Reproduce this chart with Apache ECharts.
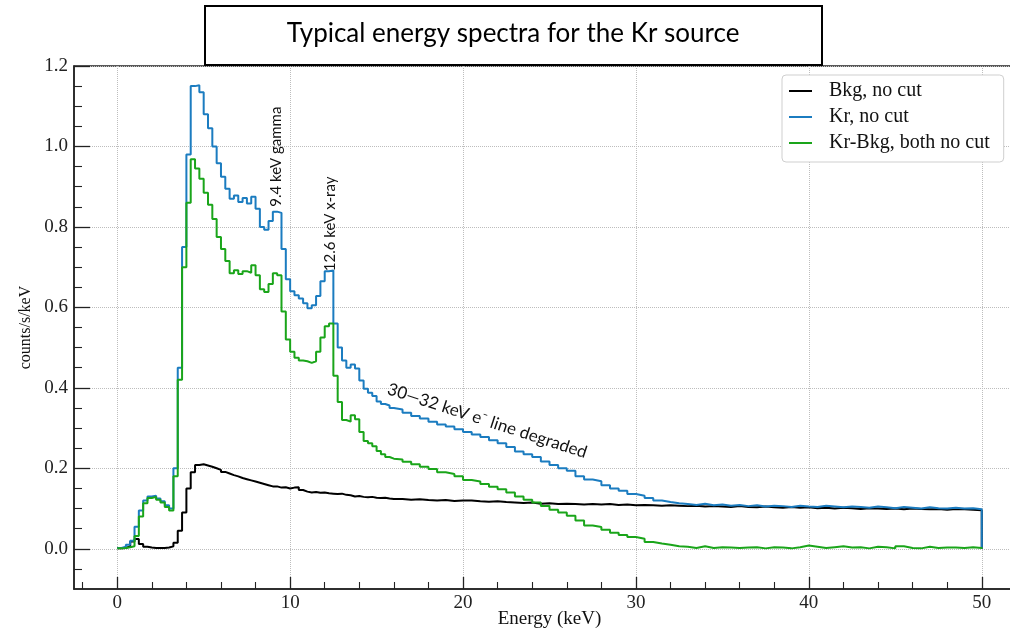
<!DOCTYPE html>
<html>
<head>
<meta charset="utf-8">
<script src="https://cdn.jsdelivr.net/npm/echarts@6/dist/echarts.min.js"></script>
<style>
  html, body { margin: 0; padding: 0; background: #fff; }
  #chart { width: 1010px; height: 632px; }
</style>
</head>
<body>
<div id="chart"></div>
<script>
// Histogram bins: 0.25 keV wide up to 16 keV, 0.5 keV wide from 16 to 50 keV
const binStarts = [];
for (let i = 0; i < 64; i++) binStarts.push(i * 0.25);
for (let i = 0; i < 68; i++) binStarts.push(16 + i * 0.5);
const HIST_END = 50;

// counts/s/keV, 0 - 16 keV
const bkgLow = [
  0.001, 0.002, 0.006, 0.018, 0.024, 0.012, 0.005, 0.003, 0.002, 0.002,
  0.002, 0.003, 0.006, 0.015, 0.045, 0.090, 0.150, 0.190, 0.208, 0.210,
  0.207, 0.204, 0.200, 0.196, 0.191, 0.187, 0.183, 0.180, 0.176, 0.173,
  0.170, 0.167, 0.164, 0.161, 0.158, 0.155, 0.155, 0.152, 0.153, 0.150,
  0.152, 0.153, 0.146, 0.142, 0.140, 0.141, 0.139, 0.140, 0.138, 0.137,
  0.136, 0.137, 0.134, 0.133, 0.130, 0.131, 0.129, 0.128, 0.129, 0.127,
  0.126, 0.127, 0.125, 0.124
];
const krLow = [
  0.002, 0.005, 0.010, 0.020, 0.055, 0.095, 0.120, 0.130, 0.132, 0.125,
  0.118, 0.108, 0.100, 0.200, 0.450, 0.750, 0.980, 1.150, 1.152, 1.135,
  1.080, 1.045, 1.000, 0.958, 0.925, 0.895, 0.870, 0.878, 0.862, 0.872,
  0.858, 0.875, 0.845, 0.800, 0.793, 0.815, 0.838, 0.835, 0.745, 0.670,
  0.640, 0.630, 0.622, 0.610, 0.598, 0.605, 0.628, 0.665, 0.690, 0.692,
  0.560, 0.500, 0.468, 0.450, 0.458, 0.448, 0.418, 0.398, 0.388, 0.380,
  0.366, 0.360, 0.356, 0.350
];
const diffLow = [
  0.001, 0.002, 0.004, 0.006, 0.032, 0.080, 0.113, 0.126, 0.129, 0.122,
  0.115, 0.104, 0.095, 0.180, 0.420, 0.700, 0.860, 0.968, 0.945, 0.920,
  0.885, 0.855, 0.820, 0.775, 0.745, 0.715, 0.685, 0.692, 0.683, 0.690,
  0.686, 0.705, 0.680, 0.645, 0.638, 0.658, 0.685, 0.680, 0.590, 0.520,
  0.490, 0.475, 0.468, 0.466, 0.462, 0.466, 0.490, 0.525, 0.553, 0.560,
  0.430, 0.365, 0.320, 0.316, 0.332, 0.322, 0.290, 0.268, 0.262, 0.255,
  0.243, 0.235, 0.228, 0.224
];

// counts/s/keV, 16 - 50 keV
const bkgHigh = [
  0.124, 0.122, 0.123, 0.121, 0.120, 0.121, 0.119, 0.120, 0.120, 0.118,
  0.117, 0.118, 0.116, 0.115, 0.114, 0.115, 0.112, 0.113, 0.111, 0.112,
  0.111, 0.110, 0.111, 0.110, 0.111, 0.109, 0.110, 0.108, 0.109, 0.108,
  0.107, 0.108, 0.107, 0.106, 0.107, 0.105, 0.106, 0.105, 0.104, 0.106,
  0.104, 0.103, 0.105, 0.103, 0.102, 0.104, 0.102, 0.103, 0.101, 0.102,
  0.100, 0.102, 0.101, 0.099, 0.101, 0.100, 0.099, 0.100, 0.098, 0.100,
  0.099, 0.098, 0.099, 0.097, 0.099, 0.098, 0.097, 0.096
];
const krHigh = [
  0.346, 0.338, 0.330, 0.324, 0.316, 0.309, 0.304, 0.297, 0.290, 0.284,
  0.278, 0.270, 0.262, 0.253, 0.242, 0.235, 0.228, 0.217, 0.208, 0.200,
  0.194, 0.180, 0.172, 0.168, 0.158, 0.150, 0.144, 0.136, 0.132, 0.126,
  0.120, 0.116, 0.113, 0.111, 0.109, 0.112, 0.108, 0.110, 0.107, 0.109,
  0.106, 0.108, 0.105, 0.107, 0.106, 0.104, 0.107, 0.105, 0.104, 0.107,
  0.105, 0.103, 0.105, 0.104, 0.102, 0.105, 0.103, 0.101, 0.104, 0.102,
  0.100, 0.103, 0.101, 0.100, 0.102, 0.100, 0.101, 0.098
];
const diffHigh = [
  0.222, 0.216, 0.210, 0.204, 0.198, 0.190, 0.186, 0.180, 0.171, 0.167,
  0.161, 0.154, 0.148, 0.140, 0.130, 0.122, 0.115, 0.106, 0.097, 0.090,
  0.082, 0.070, 0.058, 0.054, 0.047, 0.040, 0.034, 0.029, 0.025, 0.017,
  0.013, 0.010, 0.006, 0.005, 0.002, 0.006, 0.002, 0.004, 0.003, 0.002,
  0.003, 0.004, 0.001, 0.004, 0.003, 0.001, 0.004, 0.008, 0.005, 0.002,
  0.004, 0.006, 0.003, 0.004, 0.001, 0.005, 0.004, 0.001, 0.006, 0.002,
  0.001, 0.005, 0.002, 0.003, 0.003, 0.002, 0.004, 0.002
];

const seriesNames = ['Bkg, no cut', 'Kr, no cut', 'Kr-Bkg, both no cut'];
const seriesColors = ['#000000', '#1b7cc0', '#1aa51a'];

// Axis tick positions
const xMajor = [0, 10, 20, 30, 40, 50];
const xMinor = [-2, 2, 4, 6, 8, 12, 14, 16, 18, 22, 24, 26, 28, 32, 34, 36, 38, 42, 44, 46, 48, 52];
const yMajor = [0, 0.2, 0.4, 0.6, 0.8, 1.0, 1.2];
const yMinor = [-0.05, 0.05, 0.1, 0.15, 0.25, 0.3, 0.35, 0.45, 0.5, 0.55, 0.65, 0.7, 0.75,
                0.85, 0.9, 0.95, 1.05, 1.1, 1.15];

// Step-histogram outline: one point per bin start, closed at the last edge
function histPoints(vals) {
  const pts = binStarts.map((x, i) => [x, vals[i]]);
  pts.push([HIST_END, vals[vals.length - 1]]);
  pts.push([HIST_END, 0]);
  return pts;
}

const spectra = [
  bkgLow.concat(bkgHigh),
  krLow.concat(krHigh),
  diffLow.concat(diffHigh)
];

const SERIF = 'Liberation Serif';
const SANS = 'Lato';
const INK = '#222';

const chart = echarts.init(document.getElementById('chart'), null, { renderer: 'canvas' });

chart.setOption({
  animation: false,
  backgroundColor: '#fff',
  grid: {
    left: 74, top: 66, width: 951, height: 523,
    outerBoundsMode: 'none', containLabel: false,
    show: true, borderColor: INK, borderWidth: 1.5, backgroundColor: 'transparent'
  },
  legend: {
    data: seriesNames,
    orient: 'vertical',
    left: 782, top: 75,
    padding: [6, 14, 9, 7],
    itemGap: 6,
    itemWidth: 23, itemHeight: 2,
    icon: 'rect',
    backgroundColor: '#fff',
    borderColor: '#cfcfcf', borderWidth: 1, borderRadius: 4,
    textStyle: { fontFamily: SERIF, fontSize: 20, color: '#111', padding: [0, 0, 0, 12] }
  },
  xAxis: [
    {
      type: 'value', min: -2.5, max: 52.5, position: 'bottom',
      name: 'Energy (keV)', nameLocation: 'middle', nameGap: 21, nameMoveOverlap: false,
      nameTextStyle: { fontFamily: SERIF, fontSize: 19, color: '#111', verticalAlign: 'top' },
      axisLine: { show: true, onZero: false, lineStyle: { color: INK, width: 1.5 } },
      axisTick: { show: true, inside: true, length: 12, customValues: xMajor,
                  lineStyle: { color: INK, width: 1.3 } },
      axisLabel: { customValues: xMajor, fontFamily: SERIF, fontSize: 19, color: INK, margin: 5 },
      splitLine: { show: true, lineStyle: { type: 'dotted', color: '#bdbdbd', width: 1 } }
    },
    {
      type: 'value', min: -2.5, max: 52.5, position: 'bottom',
      axisLine: { show: false, onZero: false },
      axisTick: { show: true, inside: true, length: 7, customValues: xMinor,
                  lineStyle: { color: INK, width: 1.1 } },
      axisLabel: { show: false },
      splitLine: { show: false }
    }
  ],
  yAxis: [
    {
      type: 'value', min: -0.1, max: 1.2, position: 'left',
      name: 'counts/s/keV', nameLocation: 'middle', nameGap: 40, nameRotate: 90,
      nameTextStyle: { fontFamily: SERIF, fontSize: 16, color: '#111' },
      axisLine: { show: true, onZero: false, lineStyle: { color: INK, width: 1.5 } },
      axisTick: { show: true, inside: true, length: 16, customValues: yMajor,
                  lineStyle: { color: INK, width: 1.3 } },
      axisLabel: { customValues: yMajor, formatter: v => v.toFixed(1),
                   fontFamily: SERIF, fontSize: 19, color: INK, margin: 6 },
      splitLine: { show: true, lineStyle: { type: 'dotted', color: '#bdbdbd', width: 1 } }
    },
    {
      type: 'value', min: -0.1, max: 1.2, position: 'left',
      axisLine: { show: false, onZero: false },
      axisTick: { show: true, inside: true, length: 8, customValues: yMinor,
                  lineStyle: { color: INK, width: 1.1 } },
      axisLabel: { show: false },
      splitLine: { show: false }
    }
  ],
  series: spectra.map((vals, i) => ({
    name: seriesNames[i],
    type: 'line',
    xAxisIndex: 0, yAxisIndex: 0,
    step: 'end',
    data: histPoints(vals),
    showSymbol: false, symbol: 'none',
    color: seriesColors[i],
    lineStyle: { color: seriesColors[i], width: 2 },
    z: 2 + i
  }))
});

// Title box and peak annotations, placed in data coordinates
const px = (e, v) => chart.convertToPixel({ xAxisIndex: 0, yAxisIndex: 0 }, [e, v]);
const gammaPos = px(9.2, 0.85);
const xrayPos = px(12.3, 0.69);
const tailPos = px(21.4, 0.318);

chart.setOption({
  graphic: [
    {
      type: 'rect', z: 100,
      shape: { x: 205, y: 6, width: 617, height: 59 },
      style: { fill: '#fff', stroke: '#000', lineWidth: 2 }
    },
    {
      type: 'text', z: 101, x: 513, y: 34,
      style: { text: 'Typical energy spectra for the Kr source', fontFamily: SANS, fontSize: 26,
               fill: '#000', align: 'center', verticalAlign: 'middle' }
    },
    {
      type: 'text', z: 50, x: gammaPos[0], y: gammaPos[1], rotation: Math.PI / 2,
      style: { text: '9.4 keV gamma', fontFamily: SANS, fontSize: 15, fill: '#111',
               align: 'left', verticalAlign: 'middle' }
    },
    {
      type: 'text', z: 50, x: xrayPos[0], y: xrayPos[1], rotation: Math.PI / 2,
      style: { text: '12.6 keV x-ray', fontFamily: SANS, fontSize: 15, fill: '#111',
               align: 'left', verticalAlign: 'middle' }
    },
    {
      type: 'text', z: 50, x: tailPos[0], y: tailPos[1], rotation: -18 * Math.PI / 180,
      style: { text: '30\u201432 keV e\u207B line degraded', fontFamily: SANS, fontSize: 17, fill: '#111',
               align: 'center', verticalAlign: 'middle' }
    }
  ]
});
</script>
</body>
</html>
